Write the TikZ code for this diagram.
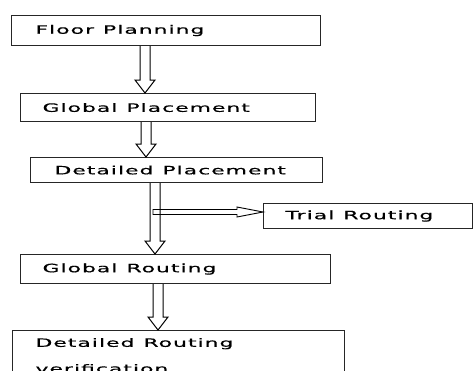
\documentclass[tikz,border=0pt]{standalone}
\usepackage{fontspec}
\usetikzlibrary{calc}
\newfontfamily\flowfont[FakeStretch=1.9,LetterSpace=9,FakeBold=0.6]{DejaVu Sans}
\newcommand{\stagefont}{\flowfont\fontsize{11.5}{26}\selectfont\spaceskip=9pt\relax}

\tikzset{
  stage/.style={draw=black!85, line width=1.1pt, anchor=north west, align=flush left,
    font=\stagefont, inner ysep=0pt},
  % open arrow going down
  hollow down/.style={draw=black, line width=1pt, to path={
    let \p1=(\tikztostart), \p2=(\tikztotarget) in
    (\x1-5pt,\y1) -- (\x1-5pt,\y2+13pt) -- (\x1-10pt,\y2+13pt) -- (\x2,\y2)
    -- (\x1+10pt,\y2+13pt) -- (\x1+5pt,\y2+13pt) -- (\x1+5pt,\y1)}},
  % thin open arrow going right
  hollow right/.style={draw=black, line width=0.9pt, to path={
    let \p1=(\tikztostart), \p2=(\tikztotarget) in
    (\x1,\y1+2.5pt) -- (\x2-26pt,\y1+2.5pt) -- (\x2-26pt,\y1+5pt) -- (\x2,\y1)
    -- (\x2-26pt,\y1-5pt) -- (\x2-26pt,\y1-2.5pt) -- (\x1,\y1-2.5pt) -- cycle}}
}

\begin{document}
\begin{tikzpicture}[x=1pt, y=1pt]

\useasboundingbox (0,0) rectangle (474,-370);
\clip (0,0) rectangle (474,-370);

\node [stage, minimum width=309, minimum height=30, inner xsep=24, text width=261] (fp) at (11,-15) {Floor Planning};
\node [stage, minimum width=295, minimum height=28, inner xsep=22, text width=251] (gp) at (20,-93) {Global Placement};
\node [stage, minimum width=292, minimum height=25, inner xsep=24, text width=244] (dp) at (30,-157) {Detailed Placement};
\node [stage, minimum width=209, minimum height=25, inner xsep=22, text width=165] (tr) at (263,-203) {Trial Routing};
\node [stage, minimum width=310, minimum height=29, inner xsep=22, text width=266] (gr) at (20,-254) {Global Routing};
\node [stage, minimum width=332, minimum height=50, inner xsep=23, text width=286] (dr) at (12,-330) {Detailed Routing\\verification};

\coordinate (branch) at (153,-212);

\draw [hollow down] (fp.south -| 145,0) to (gp.north -| 145,0);
\draw [hollow down] (gp.south -| 146,0) to (dp.north -| 146,0);
\draw [hollow down] (dp.south -| 155,0) to (gr.north -| 155,0);
\draw [hollow right] (branch) to (tr.west |- branch);
\draw [hollow down] (gr.south -| 158,0) to (dr.north -| 158,0);

\end{tikzpicture}
\end{document}
